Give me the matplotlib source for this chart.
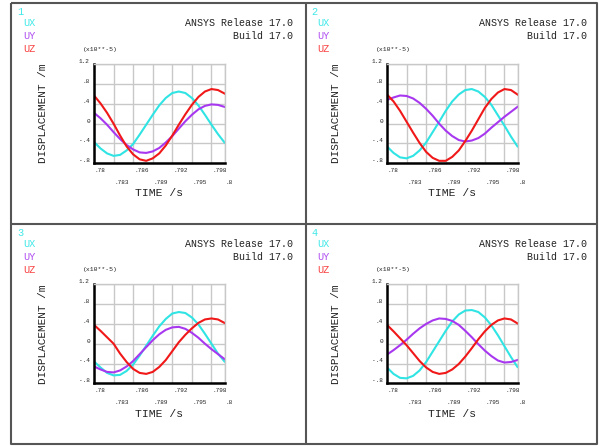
import matplotlib
matplotlib.use("Agg")
import matplotlib.pyplot as plt
from matplotlib.transforms import offset_copy

W, H = 599, 446
MONO = "Liberation Mono"

# time history (s)
time = [0.780, 0.781, 0.782, 0.783, 0.784, 0.785, 0.786, 0.787, 0.788, 0.789, 0.790,
        0.791, 0.792, 0.793, 0.794, 0.795, 0.796, 0.797, 0.798, 0.799, 0.800]

# displacements in units of 1e-5 m
ux_1 = [-0.37, -0.50, -0.60, -0.65, -0.63, -0.54, -0.41, -0.22, -0.02, 0.18, 0.37,
        0.52, 0.62, 0.65, 0.62, 0.52, 0.37, 0.18, -0.02, -0.21, -0.38]
uy_1 = [0.22, 0.11, -0.02, -0.17, -0.31, -0.43, -0.52, -0.58, -0.59, -0.56, -0.49,
        -0.38, -0.25, -0.10, 0.05, 0.18, 0.29, 0.36, 0.39, 0.38, 0.34]
uz_1 = [0.57, 0.41, 0.22, 0.00, -0.24, -0.46, -0.62, -0.72, -0.75, -0.70, -0.60,
        -0.44, -0.24, -0.02, 0.19, 0.38, 0.54, 0.65, 0.70, 0.68, 0.61]

ux_2 = [-0.46, -0.59, -0.68, -0.70, -0.65, -0.54, -0.38, -0.17, 0.04, 0.26, 0.45,
        0.59, 0.68, 0.70, 0.65, 0.54, 0.38, 0.17, -0.04, -0.26, -0.46]
uy_2 = [0.48, 0.53, 0.57, 0.56, 0.51, 0.42, 0.30, 0.16, 0.00, -0.14, -0.25,
        -0.33, -0.36, -0.34, -0.29, -0.20, -0.08, 0.03, 0.14, 0.24, 0.34]
uz_2 = [0.59, 0.45, 0.26, 0.04, -0.18, -0.39, -0.57, -0.69, -0.75, -0.75, -0.67,
        -0.54, -0.35, -0.14, 0.09, 0.32, 0.50, 0.63, 0.70, 0.68, 0.59]

ux_3 = [-0.36, -0.48, -0.59, -0.64, -0.63, -0.55, -0.42, -0.24, -0.04, 0.16, 0.35,
        0.50, 0.61, 0.64, 0.62, 0.53, 0.39, 0.20, 0.00, -0.20, -0.36]
uy_3 = [-0.46, -0.52, -0.57, -0.58, -0.54, -0.46, -0.35, -0.21, -0.07, 0.07, 0.19,
        0.28, 0.33, 0.34, 0.30, 0.22, 0.12, 0.00, -0.11, -0.21, -0.31]
uz_3 = [0.38, 0.26, 0.13, 0.00, -0.20, -0.37, -0.51, -0.59, -0.61, -0.57, -0.47,
        -0.33, -0.15, 0.03, 0.18, 0.31, 0.42, 0.49, 0.51, 0.49, 0.42]

ux_4 = [-0.48, -0.61, -0.69, -0.70, -0.65, -0.54, -0.37, -0.16, 0.05, 0.26, 0.45,
        0.59, 0.67, 0.68, 0.64, 0.53, 0.37, 0.17, -0.05, -0.27, -0.47]
uy_4 = [-0.22, -0.13, -0.03, 0.08, 0.20, 0.31, 0.40, 0.47, 0.51, 0.50, 0.46,
        0.38, 0.26, 0.13, -0.01, -0.14, -0.25, -0.34, -0.38, -0.37, -0.33]
uz_4 = [0.38, 0.25, 0.11, -0.03, -0.19, -0.35, -0.48, -0.57, -0.61, -0.59, -0.52,
        -0.41, -0.26, -0.09, 0.09, 0.25, 0.38, 0.47, 0.51, 0.49, 0.41]

panels = [
    ("1", ux_1, uy_1, uz_1),
    ("2", ux_2, uy_2, uz_2),
    ("3", ux_3, uy_3, uz_3),
    ("4", ux_4, uy_4, uz_4),
]

xticks = [0.780, 0.783, 0.786, 0.789, 0.792, 0.795, 0.798, 0.800]
xlabels = [".78", ".783", ".786", ".789", ".792", ".795", ".798", ".8"]
yticks = [-0.8, -0.4, 0.0, 0.4, 0.8, 1.2]
ylabels = ["-.8", "-.4", "0", ".4", ".8", "1.2"]

series = ["UX", "UY", "UZ"]
colors = ["#30e4e4", "#a838f0", "#f01818"]
legend_colors = ["#40e8e8", "#b050f0", "#f84040"]
grid_col = "#c8c8c8"
text_col = "#222222"

fig = plt.figure(figsize=(W / 100, H / 100), dpi=100)

# overlay in pixel units for the window frame and annotations
bg = fig.add_axes([0, 0, 1, 1])
bg.set_xlim(0, W)
bg.set_ylim(H, 0)
bg.axis("off")

frame = dict(color="#555555", lw=1.5, solid_capstyle="butt")
bg.plot([11, 597, 597, 11, 11], [3, 3, 444, 444, 3], **frame)
bg.plot([305.5, 305.5], [3, 444], **frame)
bg.plot([11, 597], [224, 224], **frame)

for i, (num, ux, uy, uz) in enumerate(panels):
    col, row = i % 2, i // 2
    dx, dy = 294 * col, 221 * row
    ax_dx, ax_dy = 293 * col, 220 * row

    # window annotations
    bg.text(17 + dx, 12 + dy, num, color=legend_colors[0], family=MONO,
            fontsize=7.4, ha="left", va="center")
    for j, name in enumerate(series):
        bg.text(23.5 + dx, 23.3 + 12.8 * j + dy, name, color=legend_colors[j],
                family=MONO, fontsize=7.4, ha="left", va="center")
    bg.text(292.7 + dx, 23.3 + dy, "ANSYS Release 17.0", color=text_col,
            family=MONO, fontsize=7.2, ha="right", va="center")
    bg.text(292.7 + dx, 36 + dy, "Build 17.0", color=text_col,
            family=MONO, fontsize=7.2, ha="right", va="center")
    bg.text(82.7 + ax_dx, 49 + dy, "(x10**-5)", color=text_col,
            family=MONO, fontsize=4.6, ha="left", va="center")
    bg.text(43.3 + ax_dx, 113.5 + dy, "DISPLACEMENT /m", color=text_col,
            family=MONO, fontsize=8, rotation=90, ha="center", va="center")
    bg.text(159 + ax_dx, 193.3 + dy, "TIME /s", color=text_col,
            family=MONO, fontsize=8.2, ha="center", va="center")

    # plot area
    left, right, top, bottom = 94 + ax_dx, 224.5 + ax_dx, 64.3 + ax_dy, 163.3 + ax_dy
    ax = fig.add_axes([left / W, 1 - bottom / H, (right - left) / W, (bottom - top) / H])
    ax.patch.set_alpha(0)
    for y, name, c in zip((ux, uy, uz), series, colors):
        ax.plot(time, y, color=c, lw=1.5, label=name)

    ax.set_xlim(0.78, 0.80)
    ax.set_ylim(-0.8, 1.2)
    ax.set_xticks(xticks)
    ax.set_yticks(yticks)
    ax.set_xticklabels([])
    ax.set_yticklabels(ylabels, family=MONO, fontsize=4.4, va="bottom", color=text_col)
    ax.tick_params(length=0, pad=3)
    ax.grid(True, color=grid_col, lw=1.0)
    ax.set_axisbelow(True)
    for s in ("top", "right"):
        ax.spines[s].set_color(grid_col)
        ax.spines[s].set_linewidth(1.0)
    for s in ("left", "bottom"):
        ax.spines[s].set_color("black")
        ax.spines[s].set_linewidth(1.8)

    # staggered time labels, two rows
    for k, (t, lab) in enumerate(zip(xticks, xlabels)):
        tr = offset_copy(ax.get_xaxis_transform(), fig=fig, x=1,
                         y=-(7 + 12 * (k % 2)), units="dots")
        ax.text(t, 0, lab, transform=tr, family=MONO, fontsize=4.3,
                ha="left", va="center", color=text_col)

fig.savefig("out.png", dpi=100)
